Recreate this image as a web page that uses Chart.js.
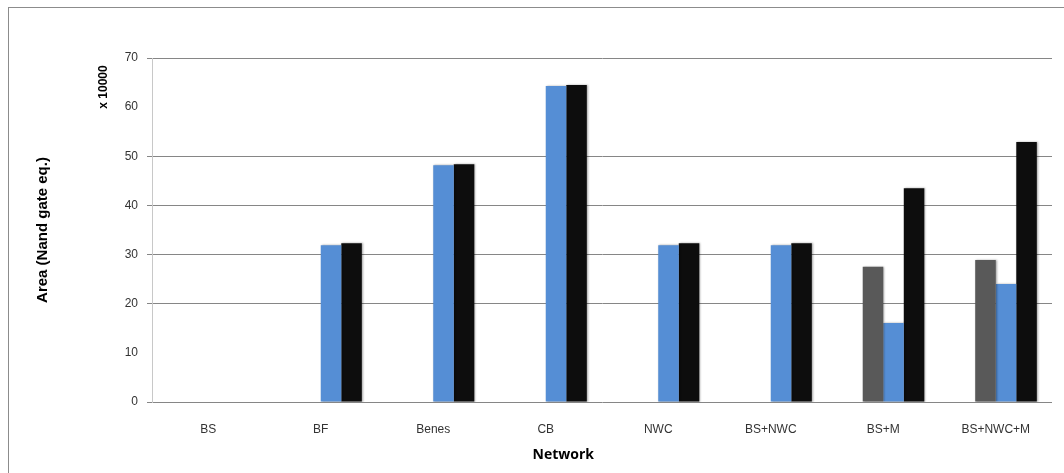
<!DOCTYPE html>
<html>
<head>
<meta charset="utf-8">
<script src="https://cdn.jsdelivr.net/npm/chart.js@4"></script>
<style>
  html, body { margin: 0; padding: 0; background: #fff; }
  #wrap { position: relative; width: 1064px; height: 473px; overflow: hidden; }
  #frame { position: absolute; left: 8px; top: 7px; width: 1100px; height: 500px;
           border-left: 1px solid #8c8c8c; border-top: 1px solid #8c8c8c; }
  canvas { position: absolute; left: 0; top: 0; }
</style>
</head>
<body>
<div id="wrap">
  <div id="frame"></div>
  <canvas id="c" width="1064" height="473"></canvas>
</div>
<script>
// categories and series (values in units of 10000 NAND gate eq.)
var networks = ['BS', 'BF', 'Benes', 'CB', 'NWC', 'BS+NWC', 'BS+M', 'BS+NWC+M'];
var seriesEmpty = [0, 0, 0, 0, 0, 0, 0, 0];
var seriesGray  = [0, 0, 0, 0, 0, 0, 27.5, 28.9];
var seriesBlue  = [0, 31.9, 48.2, 64.3, 31.9, 31.9, 16.1, 24.0];
var seriesBlack = [0, 32.3, 48.4, 64.5, 32.3, 32.3, 43.5, 52.9];
var yTicks = [0, 10, 20, 30, 40, 50, 60, 70];
var hiddenGrid = [10, 60]; // grid lines that are missing in the original

var extraLabels = {
    id: 'extraLabels',
    beforeDatasetsDraw: function (chart) {
        chart.ctx.save();
        chart.ctx.shadowColor = 'rgba(0,0,0,0.35)';
        chart.ctx.shadowBlur = 2;
        chart.ctx.shadowOffsetX = 1;
        chart.ctx.shadowOffsetY = 0;
    },
    afterDatasetsDraw: function (chart) {
        chart.ctx.restore();
    },
    afterDraw: function (chart) {
        var ctx = chart.ctx, a = chart.chartArea;
        ctx.save();
        ctx.fillStyle = '#000';
        ctx.textAlign = 'center';
        ctx.textBaseline = 'middle';
        // multiplier label next to the y axis
        ctx.font = 'bold 12px "Liberation Sans", Arial, sans-serif';
        ctx.translate(a.left - 48, a.top + 29);
        ctx.rotate(-Math.PI / 2);
        ctx.fillText('x 10000', 0, 0);
        ctx.restore();
        ctx.save();
        ctx.fillStyle = '#000';
        ctx.textAlign = 'center';
        ctx.textBaseline = 'middle';
        ctx.font = 'bold 14px "Open Sans", "Liberation Sans", sans-serif';
        ctx.fillText('Network', a.left + (a.right - a.left) * 0.457, a.bottom + 53);
        ctx.restore();
    }
};

var tickFont = { family: '"Liberation Sans", Arial, sans-serif', size: 12 };

new Chart(document.getElementById('c'), {
    type: 'bar',
    data: {
        labels: networks,
        datasets: [
            { label: 'S0', data: seriesEmpty, backgroundColor: '#ffffff' },
            { label: 'S1', data: seriesGray, backgroundColor: '#595959' },
            { label: 'S2', data: seriesBlue, backgroundColor: '#558ed5' },
            { label: 'S3', data: seriesBlack, backgroundColor: '#0d0d0d' }
        ]
    },
    plugins: [extraLabels],
    options: {
        responsive: false,
        animation: false,
        layout: { padding: { top: 58, right: 12, left: 0, bottom: 0 } },
        datasets: { bar: { barPercentage: 1, categoryPercentage: 0.73 } },
        plugins: { legend: { display: false }, tooltip: { enabled: false } },
        scales: {
            x: {
                grid: { display: false, drawTicks: false },
                border: { display: false },
                ticks: { font: tickFont, color: '#333333', padding: 20, maxRotation: 0 },
                afterFit: function (s) { s.height = 71; }
            },
            y: {
                min: 0, max: 70,
                afterBuildTicks: function (s) {
                    s.ticks = yTicks.map(function (v) { return { value: v }; });
                },
                grid: {
                    color: function (c) {
                        return hiddenGrid.indexOf(c.tick.value) >= 0 ? 'rgba(0,0,0,0)' : '#868686';
                    },
                    lineWidth: 1,
                    tickLength: 5
                },
                border: { color: '#c8c8c8' },
                ticks: { font: tickFont, color: '#333333', padding: 9 },
                title: {
                    display: true,
                    text: 'Area (Nand gate eq.)',
                    color: '#000',
                    font: { family: '"Liberation Sans", Arial, sans-serif', size: 15, weight: 'bold' },
                    padding: { top: 34, bottom: 0 }
                },
                afterFit: function (s) { s.width = 152; }
            }
        }
    }
});
</script>
</body>
</html>
